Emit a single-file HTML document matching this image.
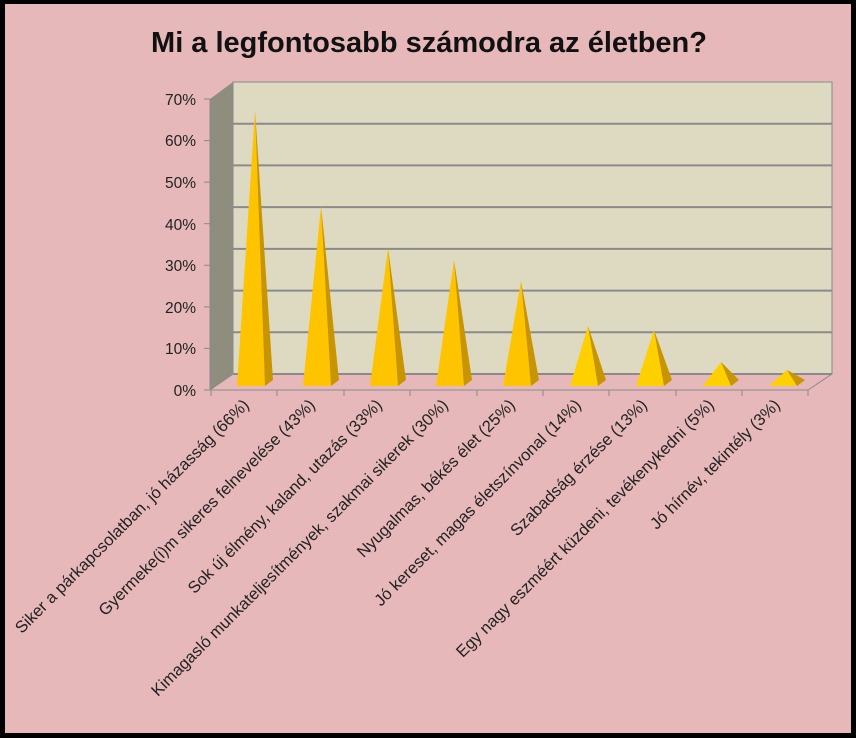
<!DOCTYPE html>
<html><head><meta charset="utf-8"><style>
html,body{margin:0;padding:0;}
body{width:856px;height:738px;overflow:hidden;background:#000;}
svg{display:block;}
text{font-family:"Liberation Sans",sans-serif;}
</style></head><body>
<svg width="856" height="738" viewBox="0 0 856 738">
<rect x="0" y="0" width="856" height="738" fill="#000"/>
<rect x="5" y="4" width="846" height="729" fill="#e6b8b9"/>
<text x="429" y="52" text-anchor="middle" font-size="29" font-weight="bold" fill="#111">Mi a legfontosabb számodra az életben?</text>
<polygon points="210,99 233,82 233,374 210,390" fill="#8e8d7e"/>
<rect x="233" y="82" width="599" height="292" fill="#dedac2" stroke="#8a8a8a" stroke-width="1"/>
<g stroke="#8a8a8a" stroke-width="2">
<line x1="233" y1="123.7" x2="832" y2="123.7"/>
<line x1="233" y1="165.4" x2="832" y2="165.4"/>
<line x1="233" y1="207.1" x2="832" y2="207.1"/>
<line x1="233" y1="248.9" x2="832" y2="248.9"/>
<line x1="233" y1="290.6" x2="832" y2="290.6"/>
<line x1="233" y1="332.3" x2="832" y2="332.3"/>
<line x1="233" y1="374" x2="832" y2="374"/>
</g>
<g stroke="#8a8a8a" stroke-width="1" fill="none">
<line x1="210" y1="99" x2="210" y2="390"/>
<line x1="210" y1="390" x2="808" y2="390"/>
<line x1="808" y1="390" x2="832" y2="374"/>
<line x1="210" y1="390" x2="233" y2="374"/>
</g>
<g stroke="#8a8a8a" stroke-width="1">
<line x1="204" y1="99" x2="210" y2="99"/><line x1="204" y1="140.6" x2="210" y2="140.6"/><line x1="204" y1="182.1" x2="210" y2="182.1"/><line x1="204" y1="223.7" x2="210" y2="223.7"/><line x1="204" y1="265.3" x2="210" y2="265.3"/><line x1="204" y1="306.9" x2="210" y2="306.9"/><line x1="204" y1="348.4" x2="210" y2="348.4"/><line x1="204" y1="390" x2="210" y2="390"/>
<line x1="211" y1="390" x2="211" y2="396"/><line x1="277" y1="390" x2="277" y2="396"/><line x1="344" y1="390" x2="344" y2="396"/><line x1="410" y1="390" x2="410" y2="396"/><line x1="477" y1="390" x2="477" y2="396"/><line x1="543" y1="390" x2="543" y2="396"/><line x1="609" y1="390" x2="609" y2="396"/><line x1="676" y1="390" x2="676" y2="396"/><line x1="742" y1="390" x2="742" y2="396"/><line x1="808" y1="390" x2="808" y2="396"/>
</g>
<g font-size="15.5" fill="#222" text-anchor="end">
<text x="196" y="105">70%</text><text x="196" y="146">60%</text><text x="196" y="188">50%</text><text x="196" y="230">40%</text><text x="196" y="271">30%</text><text x="196" y="313">20%</text><text x="196" y="354">10%</text><text x="196" y="396">0%</text>
</g>
<g>
<polygon points="237,386 265,386 255,110" fill="#ffc400"/><polygon points="265,386 273,380 255,110" fill="#c89500"/>
<polygon points="303,386 331,386 321,206" fill="#ffc400"/><polygon points="331,386 339,380 321,206" fill="#c89500"/>
<polygon points="370,386 398,386 388,248" fill="#ffc400"/><polygon points="398,386 406,380 388,248" fill="#c89500"/>
<polygon points="436,386 464,386 454,260" fill="#ffc400"/><polygon points="464,386 472,380 454,260" fill="#c89500"/>
<polygon points="503,386 531,386 521,281" fill="#ffc400"/><polygon points="531,386 539,380 521,281" fill="#c89500"/>
<polygon points="570,386 598,386 588,326" fill="#ffd000"/><polygon points="598,386 606,380 588,326" fill="#c89500"/>
<polygon points="636,386 664,386 654,330" fill="#ffd000"/><polygon points="664,386 672,380 654,330" fill="#c89500"/>
<polygon points="703,386 731,386 721,362" fill="#ffd000"/><polygon points="731,386 739,380 721,362" fill="#c89500"/>
<polygon points="769,386 797,386 787,370" fill="#ffd000"/><polygon points="797,386 805,380 787,370" fill="#c89500"/>
</g>
<g font-size="16.5" fill="#222" text-anchor="end">
<text transform="translate(250,406) rotate(-45)">Siker a párkapcsolatban, jó házasság (66%)</text>
<text transform="translate(316,406) rotate(-45)">Gyermeke(i)m sikeres felnevelése (43%)</text>
<text transform="translate(383,406) rotate(-45)">Sok új élmény, kaland, utazás (33%)</text>
<text transform="translate(449,406) rotate(-45)">Kimagasló munkateljesítmények, szakmai sikerek (30%)</text>
<text transform="translate(516,406) rotate(-45)">Nyugalmas, békés élet (25%)</text>
<text transform="translate(582,406) rotate(-45)">Jó kereset, magas életszínvonal (14%)</text>
<text transform="translate(648,406) rotate(-45)">Szabadság érzése (13%)</text>
<text transform="translate(715,406) rotate(-45)">Egy nagy eszméért küzdeni, tevékenykedni (5%)</text>
<text transform="translate(781,406) rotate(-45)">Jó hírnév, tekintély (3%)</text>
</g>
</svg>
</body></html>
